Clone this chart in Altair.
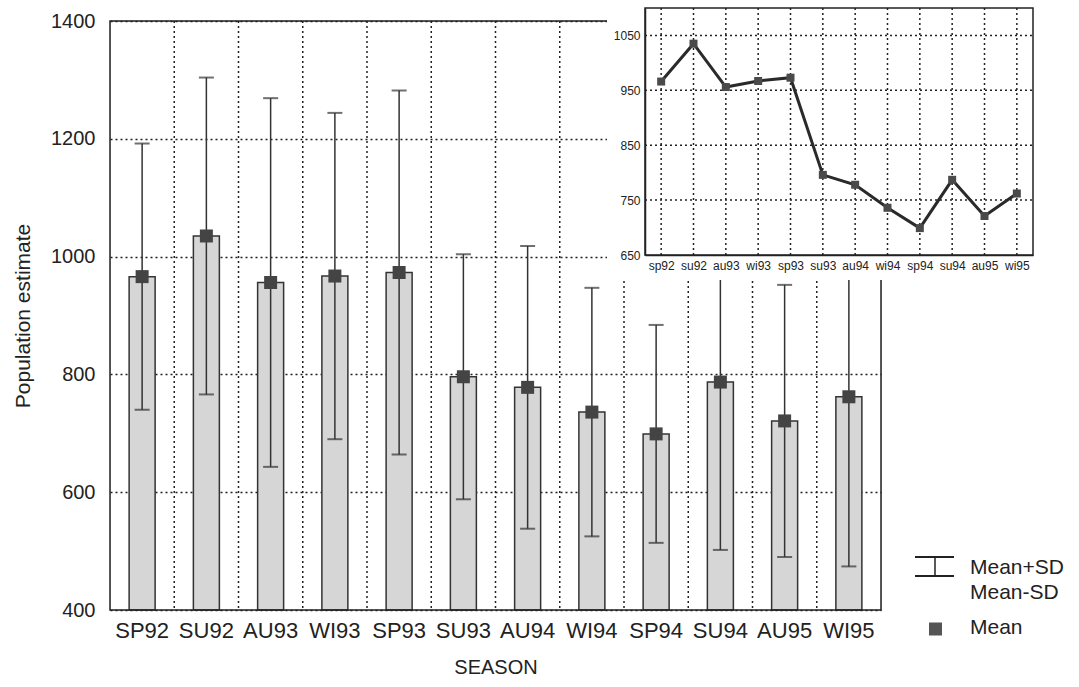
import altair as alt
import pandas as pd

seasons = ["SP92", "SU92", "AU93", "WI93", "SP93", "SU93", "AU94", "WI94", "SP94", "SU94", "AU95", "WI95"]
inset_labels = ["sp92", "su92", "au93", "wi93", "sp93", "su93", "au94", "wi94", "sp94", "su94", "au95", "wi95"]
means = [966, 1035, 956, 967, 973, 796, 778, 736, 699, 787, 721, 762]
sds = [226, 269, 313, 277, 309, 208, 240, 211, 185, 285, 231, 288]
main_ticks = [400, 600, 800, 1000, 1200, 1400]
inset_ticks = [650, 750, 850, 950, 1050]
inset_grid = [750, 850, 950, 1050]

FONT = "Liberation Sans"
INK = "#222222"
W, H = 771, 589

df = pd.DataFrame({
    "season": seasons,
    "label": inset_labels,
    "mean": means,
    "sd": sds,
})
df["upper"] = df["mean"] + df["sd"]
df["lower"] = df["mean"] - df["sd"]

xs = alt.Scale(domain=seasons, paddingInner=0, paddingOuter=0)
ys = alt.Scale(domain=[400, 1400], nice=False, zero=False)

x_axis = alt.Axis(title="SEASON", labelAngle=0, ticks=False, domain=False, grid=False,
                  labelFontSize=22, titleFontSize=20, labelPadding=10, titlePadding=16,
                  labelColor=INK, titleColor=INK, titleFontWeight="normal",
                  labelFont=FONT, titleFont=FONT)
y_axis = alt.Axis(title="Population estimate", values=main_ticks, format="d", ticks=False, domain=False,
                  grid=True, gridDash=[2, 3], gridColor=INK, gridWidth=1.5,
                  labelFontSize=20, titleFontSize=21, labelPadding=15, titlePadding=17,
                  labelColor=INK, titleColor=INK, titleFontWeight="normal",
                  labelFont=FONT, titleFont=FONT)

base = alt.Chart(df)

vgrid = alt.Chart(pd.DataFrame({"season": seasons[1:]})).mark_rule(
    color=INK, strokeDash=[2, 3], strokeWidth=1.5
).encode(x=alt.X("season:N", scale=xs, bandPosition=0, axis=x_axis))

bars = base.mark_bar(width=26, color="#d6d6d6", stroke="#333333", strokeWidth=1.5).encode(
    x=alt.X("season:N", scale=xs, axis=x_axis, sort=seasons),
    y=alt.Y("mean:Q", scale=ys, axis=y_axis),
    y2=alt.datum(400),
)
err = base.mark_rule(color="#333333", strokeWidth=1.5).encode(
    x=alt.X("season:N", scale=xs),
    y=alt.Y("lower:Q", scale=ys),
    y2="upper:Q",
)
cap_hi = base.mark_tick(color="#333333", thickness=2, size=15).encode(
    x=alt.X("season:N", scale=xs), y=alt.Y("upper:Q", scale=ys))
cap_lo = base.mark_tick(color="#333333", thickness=2, size=15).encode(
    x=alt.X("season:N", scale=xs), y=alt.Y("lower:Q", scale=ys))
sq = base.mark_square(size=169, color="#444444", opacity=1).encode(
    x=alt.X("season:N", scale=xs), y=alt.Y("mean:Q", scale=ys))

one = pd.DataFrame({"a": [0]})
frame = alt.Chart(one).mark_rect(filled=False, stroke=INK, strokeWidth=1.5).encode(
    x=alt.value(0), x2=alt.value(W), y=alt.value(0), y2=alt.value(H))
leg_top = alt.Chart(one).mark_rule(color=INK, strokeWidth=2).encode(
    x=alt.value(805), x2=alt.value(844), y=alt.value(536))
leg_bot = alt.Chart(one).mark_rule(color=INK, strokeWidth=2).encode(
    x=alt.value(805), x2=alt.value(844), y=alt.value(555))
leg_vert = alt.Chart(one).mark_rule(color=INK, strokeWidth=1.5).encode(
    x=alt.value(825), y=alt.value(536), y2=alt.value(555))
leg_sq = alt.Chart(one).mark_square(size=169, color="#555555", opacity=1).encode(
    x=alt.value(825.5), y=alt.value(608))
def leg_text(t, y):
    return alt.Chart(one).mark_text(text=t, align="left", baseline="middle", fontSize=21,
                                    font=FONT, color=INK).encode(x=alt.value(860), y=alt.value(y))

main = alt.layer(vgrid, bars, err, cap_hi, cap_lo, sq, frame, leg_top, leg_bot, leg_vert, leg_sq,
                 leg_text("Mean+SD", 547), leg_text("Mean-SD", 572), leg_text("Mean", 607))

# ---- inset ----
ix = alt.Scale(type="point", domain=inset_labels, range=[535, 923], padding=0.5)
iy = alt.Scale(domain=[650, 1100], range=[234, -13], nice=False, zero=False)
ix_axis = alt.Axis(orient="bottom", offset=-355, title=None, labelAngle=0, ticks=False,
                   grid=False, domain=True, domainColor=INK, domainWidth=1.5, zindex=2,
                   labelFontSize=12, labelPadding=5, labelColor=INK, labelFont=FONT)
iy_axis = alt.Axis(orient="left", offset=-535, title=None, values=inset_ticks, format="d",
                   ticks=False, grid=False, domain=True, domainColor=INK, domainWidth=1.5, zindex=2,
                   labelFontSize=12, labelPadding=5, labelColor=INK, labelFont=FONT)

ibg = alt.Chart(one).mark_rect(color="white", opacity=1).encode(
    x=alt.value(497), x2=alt.value(935), y=alt.value(-21), y2=alt.value(259))
ibox = alt.Chart(one).mark_rect(filled=False, stroke=INK, strokeWidth=1.5).encode(
    x=alt.value(535), x2=alt.value(923), y=alt.value(-13), y2=alt.value(234))
ivgrid = base.mark_rule(color=INK, strokeDash=[2, 3], strokeWidth=1.5).encode(
    x=alt.X("label:N", scale=ix, axis=ix_axis, sort=inset_labels),
    y=alt.value(-13), y2=alt.value(234))
ihgrid = alt.Chart(pd.DataFrame({"g": inset_grid})).mark_rule(
    color=INK, strokeDash=[2, 3], strokeWidth=1.5
).encode(y=alt.Y("g:Q", scale=iy, axis=iy_axis), x=alt.value(535), x2=alt.value(923))
iline = base.mark_line(color="#2a2a2a", strokeWidth=3).encode(
    x=alt.X("label:N", scale=ix, sort=inset_labels), y=alt.Y("mean:Q", scale=iy))
ipts = base.mark_square(size=64, color="#4a4a4a", opacity=1).encode(
    x=alt.X("label:N", scale=ix, sort=inset_labels), y=alt.Y("mean:Q", scale=iy))

inset = alt.layer(ibg, ibox, ivgrid, ihgrid, iline, ipts)

chart = alt.layer(main, inset).resolve_scale(x="independent", y="independent").properties(
    width=W, height=H,
    padding={"left": 110, "top": 21, "right": 1079 - 110 - W, "bottom": 687 - 21 - H},
    autosize=alt.AutoSizeParams(type="none"),
    background="white",
).configure_view(stroke=None).configure(font=FONT)

chart.save("out.html", embed_options={"renderer": "svg", "actions": False})
